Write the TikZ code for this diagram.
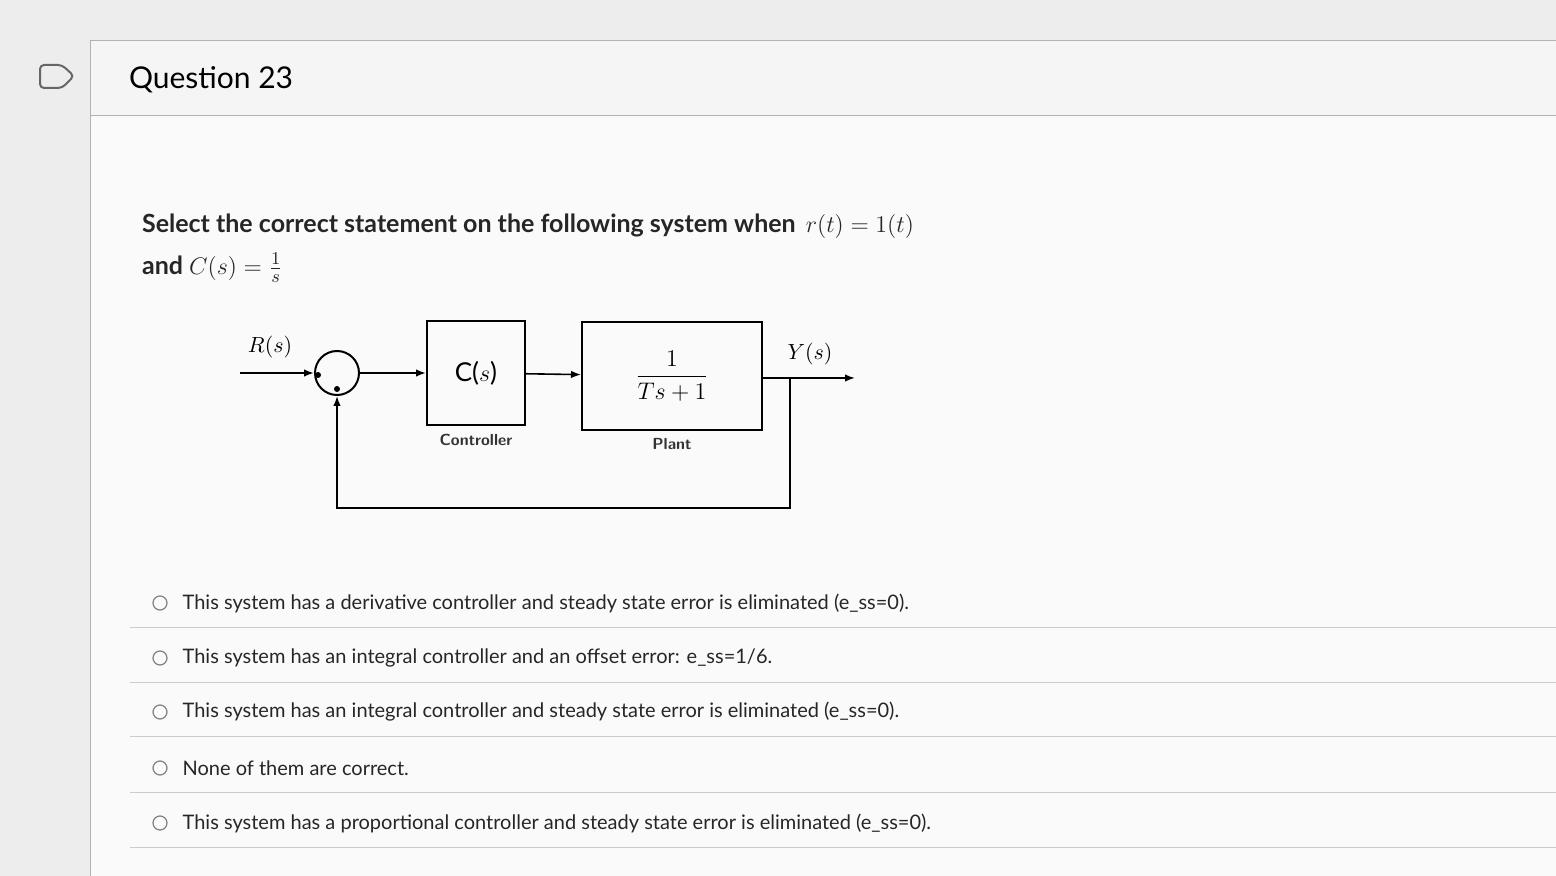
\documentclass[tikz,border=0pt]{standalone}
\usepackage{fontspec}
\setmainfont{Lato}
\usetikzlibrary{arrows.meta,positioning}
\begin{document}
\begin{tikzpicture}[x=0.5pt,y=-0.5pt,
  blk/.style={draw, line width=1pt, inner sep=0pt},
  arr/.style={-{Latex[length=5pt]}, line width=0.8pt},
  line/.style={line width=0.8pt},
  opt/.style={anchor=west, font=\fontsize{10}{12}\selectfont, text=black!85},
  radio/.style={draw=black!50, circle, minimum size=7pt, inner sep=0pt, line width=0.6pt}
]
  \useasboundingbox[fill=black!7] (0,0) rectangle (1556,876);
  % page panels
  \draw[black!30, fill=black!4] (90,40) rectangle (1556,115);
  \draw[black!30, fill=black!2] (90,115) rectangle (1556,876);
  \draw[black!60, line width=1pt, rounded corners=2pt] (40,65) -- (62,65) -- (74,76) -- (62,88) -- (40,88) -- cycle;
  \node[anchor=west, font=\fontsize{15}{18}\selectfont] (title) at (122,80) {Question 23};
  % question text
  \node[anchor=west, font=\bfseries\fontsize{12.5}{15}\selectfont, text=black!85] (q1) at (135,226)
    {Select the correct statement on the following system when \,$r(t)=1(t)$};
  \node[anchor=west, font=\bfseries\fontsize{12.5}{15}\selectfont, text=black!85] (q2) at (135,268)
    {and $C(s)=\frac{1}{s}$};
  % block diagram
  \node[draw, circle, line width=1pt, minimum size=22pt] (sum) at (337,373) {};
  \fill (318,375) circle (1.5pt) (337,389) circle (1.5pt);
  \node[blk, minimum width=49pt, minimum height=52pt] (ctrl) at (476,373) {\fontsize{13}{15}\selectfont C($s$)};
  \node[blk, minimum width=90pt, minimum height=54pt] (plant) at (672,376) {\fontsize{12}{14}\selectfont $\displaystyle\frac{1}{Ts+1}$};
  \node[font=\sffamily\bfseries\fontsize{8}{10}\selectfont, text=black!80] (ctrllbl) at (476,440) {Controller};
  \node[font=\sffamily\bfseries\fontsize{8}{10}\selectfont, text=black!80] (plantlbl) at (672,444) {Plant};
  \coordinate (in) at (240,373);
  \coordinate (out) at (855,378);
  \coordinate (br) at (790,378);
  \node[font=\fontsize{11}{13}\selectfont] (rlbl) at (270,347) {$R(s)$};
  \node[font=\fontsize{11}{13}\selectfont] (ylbl) at (810,354) {$Y(s)$};
  \draw[arr] (in) -- (sum);
  \draw[arr] (sum) -- (ctrl);
  \draw[arr] (ctrl) -- (plant);
  \draw[arr] (plant.east |- out) -- (out);
  \draw[arr] (br) -- (790,508) -- (337,508) -- (sum);
  % answer options
  \foreach \y/\t in {600/{This system has a derivative controller and steady state error is eliminated (e\_ss=0).},
                     655/{This system has an integral controller and an offset error: e\_ss=1/6.},
                     709/{This system has an integral controller and steady state error is eliminated (e\_ss=0).},
                     765/{None of them are correct.},
                     820/{This system has a proportional controller and steady state error is eliminated (e\_ss=0).}}{
    \node[radio] (r\y) at (160,\y+3) {};
    \node[opt, right=4pt of r\y] (o\y) {\t};
    \draw[black!20] (130,\y+27) -- (1556,\y+27);
  }
\end{tikzpicture}
\end{document}
